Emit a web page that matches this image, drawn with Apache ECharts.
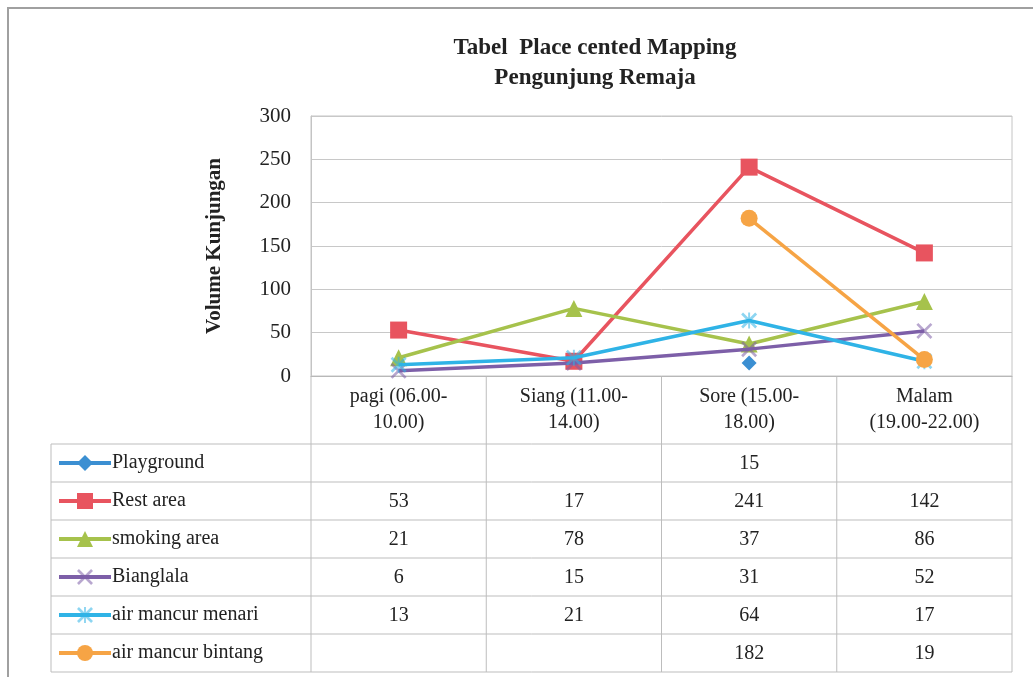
<!DOCTYPE html>
<html>
<head>
<meta charset="utf-8">
<script src="https://cdn.jsdelivr.net/npm/echarts@6/dist/echarts.min.js"></script>
<style>
  html, body { margin: 0; padding: 0; background: #fff; }
  #chart { width: 1033px; height: 677px; }
</style>
</head>
<body>
<div id="chart"></div>
<script>
// Time slots (x categories)
const categories = ['pagi (06.00-\n10.00)', 'Siang (11.00-\n14.00)', 'Sore (15.00-\n18.00)', 'Malam\n(19.00-22.00)'];

// Visits per place and time slot
const playground       = [null, null, 15, null];
const restArea         = [53, 17, 241, 142];
const smokingArea      = [21, 78, 37, 86];
const bianglala        = [6, 15, 31, 52];
const airMancurMenari  = [13, 21, 64, 17];
const airMancurBintang = [null, null, 182, 19];

const seriesNames = ['Playground', 'Rest area', 'smoking area', 'Bianglala', 'air mancur menari', 'air mancur bintang'];
const seriesValues = [playground, restArea, smokingArea, bianglala, airMancurMenari, airMancurBintang];

// Y axis ticks
const yMin = 0, yMax = 300, yStep = 50;

const SERIF = '"Liberation Serif", "DejaVu Serif", serif';
const colors = ['#3b8fd2', '#e8545f', '#a6c24c', '#7d5fa8', '#2fb3e6', '#f6a445'];
const xPath = 'path://M0,1.2 L1.2,0 L10,8.8 L8.8,10 Z M8.8,0 L10,1.2 L1.2,10 L0,8.8 Z';
const starPath = 'path://M0,1.2 L1.2,0 L10,8.8 L8.8,10 Z M8.8,0 L10,1.2 L1.2,10 L0,8.8 Z M4.4,0 L5.6,0 L5.6,10 L4.4,10 Z';
const symbols = ['diamond', 'rect', 'triangle', xPath, starPath, 'circle'];
const symbolSizes = [15, 17, 17, 16, 16, 17];

const chart = echarts.init(document.getElementById('chart'), null, { renderer: 'canvas' });

const gridLeft = 311, gridRight = 21, gridTop = 116, gridBottom = 301;

chart.setOption({
  animation: false,
  backgroundColor: '#fff',
  title: {
    text: 'Tabel  Place cented Mapping\nPengunjung Remaja',
    left: 590, top: 28, textAlign: 'center',
    textStyle: { fontFamily: SERIF, fontWeight: 'bold', fontSize: 23, lineHeight: 30, color: '#222' }
  },
  legend: {
    orient: 'vertical',
    left: 57, top: 453, padding: 0,
    itemWidth: 52, itemHeight: 20, itemGap: 18,
    lineStyle: { width: 4 },
    textStyle: { fontFamily: SERIF, fontSize: 20, lineHeight: 20, color: '#222', padding: [0, 0, 0, -4] },
    data: seriesNames
  },
  grid: {
    left: gridLeft, right: gridRight, top: gridTop, bottom: gridBottom,
    show: true, borderColor: '#c4c4c4', borderWidth: 1
  },
  xAxis: {
    type: 'category', data: categories, boundaryGap: true,
    axisLine: { lineStyle: { color: '#b8b8b8' } },
    axisTick: { show: false },
    splitLine: { show: false },
    axisLabel: { fontFamily: SERIF, fontSize: 20, lineHeight: 26, color: '#222', margin: 8, interval: 0 }
  },
  yAxis: {
    type: 'value', min: yMin, max: yMax, interval: yStep,
    name: 'Volume Kunjungan', nameLocation: 'middle', nameGap: 86, nameRotate: 90,
    nameTextStyle: { fontFamily: SERIF, fontWeight: 'bold', fontSize: 21, color: '#222' },
    axisLine: { show: true, lineStyle: { color: '#c4c4c4' } },
    axisTick: { show: false },
    splitLine: { lineStyle: { color: '#c8c8c8' } },
    axisLabel: { fontFamily: SERIF, fontSize: 21, color: '#222', margin: 20 }
  },
  series: seriesNames.map((name, i) => ({
    name, type: 'line', data: seriesValues[i],
    symbol: symbols[i], symbolSize: symbolSizes[i], showAllSymbol: true,
    connectNulls: false,
    lineStyle: { width: 3.5, color: colors[i] },
    itemStyle: { color: colors[i], opacity: (i === 3 || i === 4) ? 0.55 : 1 },
    z: 2 + i
  }))
});

// Data table beneath the plot, aligned to the category axis
function drawTable() {
  const colEdges = [];
  const n = categories.length;
  const c0 = chart.convertToPixel({ xAxisIndex: 0 }, 0);
  const c1 = chart.convertToPixel({ xAxisIndex: 0 }, 1);
  const w = c1 - c0;
  for (let k = 0; k <= n; k++) colEdges.push(c0 - w / 2 + k * w);
  const axisY = chart.convertToPixel({ yAxisIndex: 0 }, yMin);
  const headerBottom = 444;
  const rowH = 38;
  const tableLeft = 51;
  const tableRight = colEdges[n];
  const tableBottom = headerBottom + rowH * seriesNames.length;
  const lineColor = '#bdbdbd';
  const els = [];

  // outer frame of the chart
  els.push({ type: 'rect', shape: { x: 8, y: 8, width: 1060, height: 720 },
    style: { fill: 'none', stroke: '#a0a0a0', lineWidth: 2 }, silent: true });

  for (let r = 0; r <= seriesNames.length; r++) {
    const y = headerBottom + r * rowH;
    els.push({ type: 'line', shape: { x1: tableLeft, y1: y, x2: tableRight, y2: y },
      style: { stroke: lineColor, lineWidth: 1 }, silent: true });
  }
  els.push({ type: 'line', shape: { x1: tableLeft, y1: headerBottom, x2: tableLeft, y2: tableBottom },
    style: { stroke: lineColor, lineWidth: 1 }, silent: true });
  colEdges.forEach(x => {
    els.push({ type: 'line', shape: { x1: x, y1: axisY, x2: x, y2: tableBottom },
      style: { stroke: lineColor, lineWidth: 1 }, silent: true });
  });

  seriesValues.forEach((vals, r) => {
    const cy = headerBottom + r * rowH + rowH / 2 + 1;
    vals.forEach((v, k) => {
      if (v === null) return;
      els.push({ type: 'text', x: (colEdges[k] + colEdges[k + 1]) / 2, y: cy, silent: true,
        style: { text: String(v), fontFamily: SERIF, fontSize: 20, fill: '#222',
          align: 'center', verticalAlign: 'middle' } });
    });
  });

  chart.setOption({ graphic: els });
}
drawTable();
</script>
</body>
</html>
